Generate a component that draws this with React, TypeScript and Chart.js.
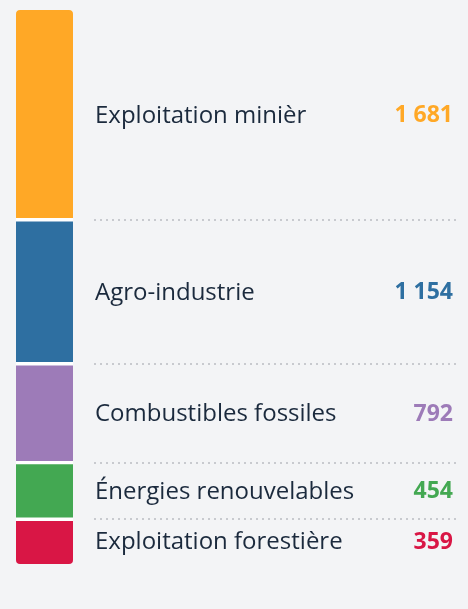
import React, { useEffect, useRef } from "react";
import { Chart, registerables } from "chart.js";

Chart.register(...registerables);

const categories = [
  "Exploitation minièr",
  "Agro-industrie",
  "Combustibles fossiles",
  "Énergies renouvelables",
  "Exploitation forestière",
];
const values = [1681, 1154, 792, 454, 359];
const valueLabels = ["1 681", "1 154", "792", "454", "359"];
const colors = ["#FFA826", "#2E6FA1", "#9D7BB8", "#43A852", "#D91645"];

const TEXT_COLOR = "#1B2A3D";
const BG = "#F3F4F6";

export default function App() {
  const ref = useRef<HTMLCanvasElement | null>(null);

  useEffect(() => {
    document.body.style.margin = "0";
    document.body.style.background = BG;
    const n = categories.length;
    const total = values.reduce((a, b) => a + b, 0);

    const datasets = categories
      .map((c, i) => ({
        label: c,
        data: [values[i]],
        backgroundColor: colors[i],
        borderColor: "#FFFFFF",
        borderSkipped: false as const,
        borderWidth: {
          top: i === 0 ? 0 : 2,
          bottom: i === n - 1 ? 0 : 2,
          left: 0,
          right: 0,
        },
        borderRadius:
          i === 0
            ? { topLeft: 4, topRight: 4, bottomLeft: 0, bottomRight: 0 }
            : i === n - 1
            ? { topLeft: 0, topRight: 0, bottomLeft: 4, bottomRight: 4 }
            : 0,
        barPercentage: 1,
        categoryPercentage: 1,
      }))
      .reverse();

    const sideLabels = {
      id: "sideLabels",
      afterDatasetsDraw(chart: any) {
        const ctx = chart.ctx;
        const count = chart.data.datasets.length;
        ctx.save();
        for (let d = 0; d < count; d++) {
          const idx = count - 1 - d;
          const el = chart.getDatasetMeta(d).data[0] as any;
          const top = Math.min(el.y, el.base);
          const bottom = Math.max(el.y, el.base);
          const mid = (top + bottom) / 2 + 1;
          ctx.textBaseline = "middle";
          ctx.font = "24px 'Open Sans'";
          ctx.fillStyle = TEXT_COLOR;
          ctx.textAlign = "left";
          ctx.fillText(categories[idx], 95, mid);
          ctx.font = "bold 23px 'Open Sans'";
          ctx.fillStyle = colors[idx];
          ctx.textAlign = "right";
          ctx.fillText(valueLabels[idx], 453, mid);
          if (d !== 0) {
            const y = Math.round(bottom);
            ctx.beginPath();
            ctx.setLineDash([2, 4]);
            ctx.lineWidth = 2;
            ctx.strokeStyle = "#C8CACF";
            ctx.moveTo(94, y);
            ctx.lineTo(458, y);
            ctx.stroke();
            ctx.setLineDash([]);
          }
        }
        ctx.restore();
      },
    };

    const chart = new Chart(ref.current!, {
      type: "bar",
      data: { labels: ["Total"], datasets: datasets as any },
      options: {
        animation: false,
        responsive: true,
        maintainAspectRatio: false,
        layout: { padding: { left: 16, right: 395, top: 10, bottom: 45 } },
        scales: {
          x: { stacked: true, display: false, grid: { display: false } },
          y: {
            stacked: true,
            display: false,
            min: 0,
            max: total,
            grid: { display: false },
          },
        },
        plugins: {
          legend: { display: false },
          tooltip: { enabled: false },
        },
      },
      plugins: [sideLabels],
    });
    return () => chart.destroy();
  }, []);

  return (
    <div style={{ width: 468, height: 609, position: "relative", background: BG }}>
      <canvas ref={ref} />
    </div>
  );
}
